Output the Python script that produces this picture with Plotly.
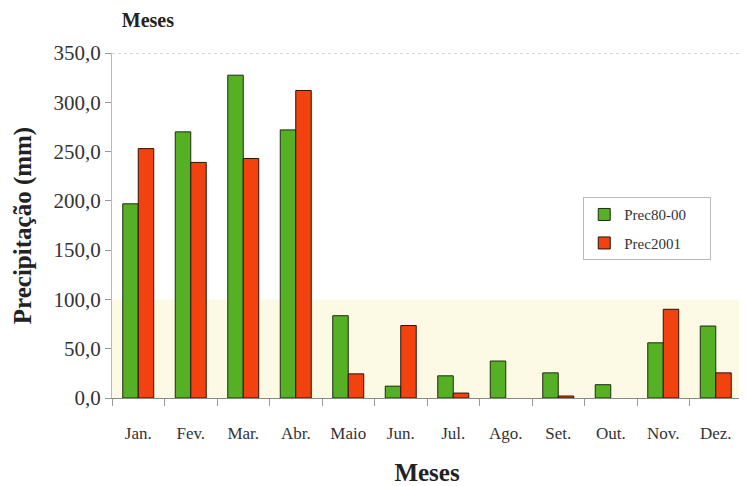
import plotly.graph_objects as go

months = ["Jan.", "Fev.", "Mar.", "Abr.", "Maio", "Jun.", "Jul.", "Ago.", "Set.", "Out.", "Nov.", "Dez."]
prec80_00 = [197.0, 270.0, 327.5, 272.0, 83.5, 12.0, 22.5, 37.5, 25.5, 13.5, 56.0, 73.0]
prec2001 = [253.0, 239.0, 243.0, 312.0, 24.5, 73.5, 5.0, None, 2.0, None, 90.0, 25.5]
series_names = ["Prec80-00", "Prec2001"]
y_ticks = [0, 50, 100, 150, 200, 250, 300, 350]

serif = "Liberation Serif, Times New Roman, serif"
pad = "\u00a0" * 5  # extra right padding inside the legend box

fig = go.Figure()
fig.add_trace(go.Bar(x=months, y=prec80_00, name=series_names[0] + pad, legendgroup="a",
                     marker=dict(color="#55b023", line=dict(color="#1f2a10", width=1))))
fig.add_trace(go.Bar(x=months, y=prec2001, name=series_names[1] + pad, legendgroup="b",
                     marker=dict(color="#f2420f", line=dict(color="#2a1208", width=1))))

# pale yellow scan tint in the lower part of the plot
fig.add_shape(type="rect", xref="paper", yref="y", x0=0, x1=1, y0=0, y1=100,
              fillcolor="#fcfae4", line=dict(width=0), layer="below")

# the page body has an 8px margin, so the figure is sized to fit the 747x486 window
fig.update_layout(
    width=739, height=478,
    margin=dict(l=104, r=5, t=45, b=88, autoexpand=False),
    paper_bgcolor="white", plot_bgcolor="white",
    barmode="group", bargap=0.41, bargroupgap=0.0,
    separators=",.",
    font=dict(family=serif, color="#222222"),
    title=dict(text="<b>Meses</b>", x=0.154, xanchor="left", y=0.974, yanchor="middle",
               font=dict(family=serif, size=20, color="#222222")),
    legend=dict(x=0.748, y=0.582, xanchor="left", yanchor="top",
                bgcolor="white", bordercolor="#bbbbbb", borderwidth=1,
                font=dict(family=serif, size=15, color="#333333"),
                itemwidth=30, tracegroupgap=6),
    xaxis=dict(
        title=dict(text="<b>Meses</b>", font=dict(family=serif, size=25, color="#222222"), standoff=22),
        tickfont=dict(family=serif, size=17, color="#333333"),
        showline=True, linecolor="#888888", linewidth=1, mirror=False,
        ticks="outside", tickson="boundaries", ticklen=7, tickcolor="#999999",
        ticklabelstandoff=20,
        showgrid=False, automargin=False,
    ),
    yaxis=dict(
        title=dict(text="<b>Precipitação (mm)</b>", font=dict(family=serif, size=25, color="#222222"), standoff=14),
        tickfont=dict(family=serif, size=21, color="#333333"),
        range=[0, 350], tickvals=y_ticks, tickformat=".1f",
        showline=True, linecolor="#bbbbbb", linewidth=1,
        ticks="outside", ticklen=6, tickcolor="#999999",
        showgrid=False, zeroline=False, automargin=False,
    ),
)

# top dotted border and right border
fig.add_shape(type="line", xref="paper", yref="y", x0=0, x1=1, y0=350, y1=350,
              line=dict(color="#aaaaaa", width=1, dash="dot"))
fig.add_shape(type="line", xref="paper", yref="y", x0=1, x1=1, y0=0, y1=350,
              line=dict(color="#cccccc", width=1))

fig.write_html("out.html")
